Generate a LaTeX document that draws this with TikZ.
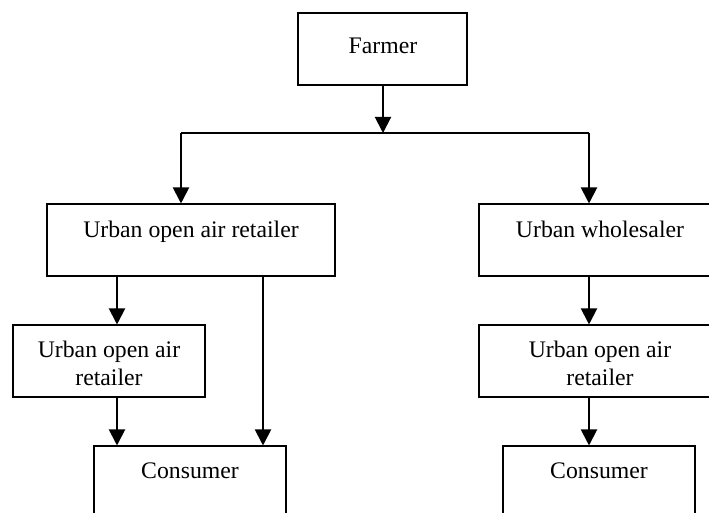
\documentclass[tikz,border=0pt]{standalone}
\usepackage{fontspec}
\setmainfont{Liberation Serif}
\usetikzlibrary{arrows.meta}
\tikzset{
  box/.style={draw, line width=0.8pt, inner sep=0pt},
  lbl/.style={anchor=base, inner sep=0pt, font=\fontsize{17.8}{21}\selectfont, align=center},
  arr/.style={line width=1.5pt, -{Triangle[width=12pt,length=12pt]}},
  ln/.style={line width=1.5pt}
}
\begin{document}
\begin{tikzpicture}[x=0.75pt,y=-0.75pt]
\useasboundingbox (0,0) rectangle (709,513);
\clip (0,0) rectangle (709,513);
% boxes
\node[box, minimum width=126.75pt, minimum height=54pt] (farmer) at (382.5,49) {};
\node[box, minimum width=216pt, minimum height=54pt] (b1) at (191,240) {};
\node[box, minimum width=144pt, minimum height=54pt] (b2) at (109,361) {};
\node[box, minimum width=144pt, minimum height=70.5pt] (c1) at (190,493) {};
\node[box, minimum width=181.5pt, minimum height=54pt] (w1) at (600,240) {};
\node[box, minimum width=181.5pt, minimum height=54pt] (w2) at (600,361) {};
\node[box, minimum width=144pt, minimum height=70.5pt] (c2) at (599,493) {};
% labels
\node[lbl] (tf) at (383,54) {Farmer};
\node[lbl] (tb1) at (191,237) {Urban open air retailer};
\node[lbl] (tb2a) at (109,357) {Urban open air};
\node[lbl] (tb2b) at (109,385) {retailer};
\node[lbl] (tc1) at (190,478) {Consumer};
\node[lbl] (tw1) at (600,237) {Urban wholesaler};
\node[lbl] (tw2a) at (600,357) {Urban open air};
\node[lbl] (tw2b) at (600,385) {retailer};
\node[lbl] (tc2) at (599,478) {Consumer};
% connector coordinates
\coordinate (j) at (383,133);
\coordinate (hl) at (181,133);
\coordinate (hr) at (589,133);
\coordinate (xa) at (117,0);
\coordinate (xb) at (263,0);
\coordinate (xr) at (589,0);
% connectors
\draw[arr] (farmer.south -| j) -- (j);
\draw[ln] (hl) -- (hr);
\draw[arr] (hl) -- (b1.north -| hl);
\draw[arr] (hr) -- (w1.north -| hr);
\draw[arr] (b1.south -| xa) -- (b2.north -| xa);
\draw[arr] (b2.south -| xa) -- (c1.north -| xa);
\draw[arr] (b1.south -| xb) -- (c1.north -| xb);
\draw[arr] (w1.south -| xr) -- (w2.north -| xr);
\draw[arr] (w2.south -| xr) -- (c2.north -| xr);
\end{tikzpicture}
\end{document}
